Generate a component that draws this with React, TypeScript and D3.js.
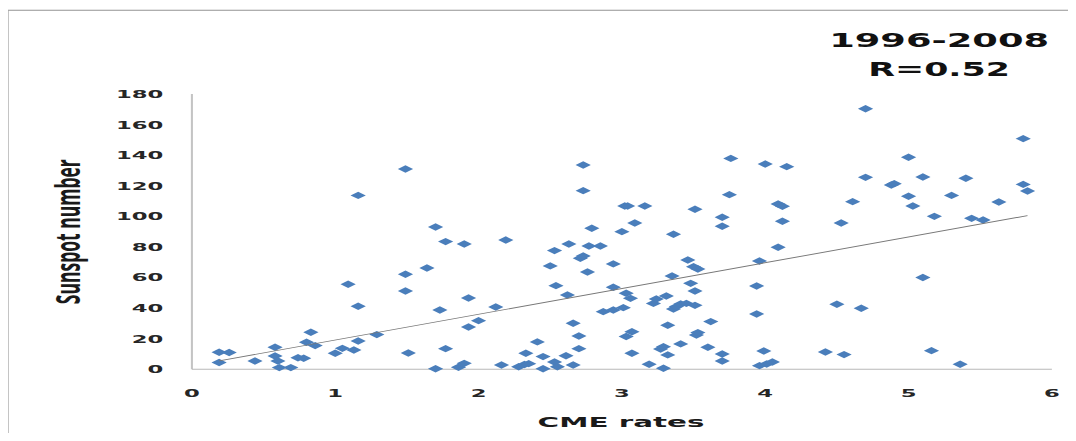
import React from 'react';
import * as d3 from 'd3';

// CME rate (x) and sunspot number (y)
const cmeRates = [
  0.19, 0.26, 0.19, 0.44, 0.58, 0.58, 0.6, 0.61, 0.69, 0.74, 0.78, 0.8, 0.83, 0.86,
  1.0, 1.05, 1.13, 1.09, 1.16, 1.16, 1.16, 1.29, 1.49, 1.49, 1.49, 1.51, 1.64, 1.7,
  1.77, 1.9, 1.73, 1.77, 1.7, 1.86, 1.9, 1.93, 1.93, 2.0, 2.12, 2.19, 2.16, 2.28,
  2.32, 2.35, 2.33, 2.41, 2.45, 2.45, 2.53, 2.55, 2.61, 2.66, 2.5, 2.53, 2.54, 2.62,
  2.63, 2.66, 2.7, 2.7, 2.71, 2.73, 2.73, 2.73, 2.76, 2.79, 2.77, 2.85, 2.87, 2.94,
  2.94, 2.94, 3.01, 3.0, 3.02, 3.04, 3.03, 3.06, 3.16, 3.09, 3.03, 3.07, 3.07, 3.19,
  3.22, 3.24, 3.27, 3.29, 3.29, 3.31, 3.32, 3.32, 3.35, 3.36, 3.38, 3.36, 3.41, 3.41,
  3.45, 3.46, 3.48, 3.5, 3.53, 3.51, 3.51, 3.51, 3.52, 3.53, 3.6, 3.62, 3.7, 3.7,
  3.7, 3.7, 3.75, 3.76, 3.94, 3.94, 3.96, 3.96, 3.99, 4.01, 4.05, 4.0, 4.09, 4.12,
  4.09, 4.12, 4.15, 4.42, 4.5, 4.53, 4.55, 4.61, 4.67, 4.7, 4.7, 4.88, 4.9, 5.0,
  5.0, 5.03, 5.1, 5.1, 5.16, 5.18, 5.3, 5.36, 5.4, 5.44, 5.52, 5.63, 5.8, 5.8, 5.83,
];
const sunspots = [
  11.1, 11, 4.4, 5.4, 14.4, 8.7, 5.4, 1.1, 1.1, 7.6, 7.2, 17.7, 24.2, 15.5,
  10.5, 13.7, 12.6, 55.6, 41.2, 113.7, 18.5, 22.7, 131, 62.1, 51.2, 10.7, 66.2, 93,
  83.5, 81.9, 38.8, 13.5, 0.4, 1.3, 3.9, 46.6, 27.7, 31.8, 40.7, 84.5, 2.8, 1.7,
  3.1, 3.7, 10.5, 17.9, 8.3, 0.4, 4.8, 1.7, 8.9, 2.8, 67.6, 77.6, 54.7, 48.6,
  81.9, 30.1, 21.8, 13.5, 72.6, 74.1, 116.8, 133.6, 63.6, 92.2, 80.6, 80.6, 37.7, 38.8,
  68.9, 53.6, 40.3, 90, 106.8, 106.8, 49.7, 46.4, 106.8, 95.7, 21.4, 24.6, 10.5, 3.3,
  43.1, 46, 13.3, 14.8, 0.7, 47.9, 28.8, 9.4, 61, 39.4, 41, 88.3, 16.6, 42.7,
  43.1, 71.5, 56.2, 67.1, 65.6, 104.6, 51.2, 41.8, 22.4, 24, 14.4, 31.2, 99.4, 93.5,
  10, 5.4, 114.2, 137.9, 54.5, 36.2, 70.8, 2.4, 12, 3.5, 4.8, 134.2, 108.1, 106.6,
  79.8, 96.8, 132.5, 11.3, 42.5, 95.7, 9.6, 109.6, 39.9, 170.4, 125.5, 120.5, 121.4, 138.6,
  113.1, 106.8, 125.7, 60, 12.2, 100, 113.7, 3.3, 124.9, 98.7, 97.6, 109.4, 150.8, 120.9, 116.6,
];

const xTicks = [0, 1, 2, 3, 4, 5, 6];
const yTicks = [0, 20, 40, 60, 80, 100, 120, 140, 160, 180];

const titleLines = ['1996-2008', 'R=0.52'];
const xTitle = 'CME rates';
const yTitle = 'Sunspot number';

// linear trend line
const trendSlope = 16.84;
const trendIntercept = 2.3;

// the picture is stretched sideways, so draw in a narrower frame and stretch it
const W = 522;
const H = 441;

const tickFont = 'DejaVu Sans, Verdana, sans-serif';

export default function App() {
  const x = d3.scaleLinear().domain([0, 6]).range([93.1, 510.3]);
  const y = d3.scaleLinear().domain([0, 180]).range([369.3, 94]);

  const [xMin, xMax] = d3.extent(cmeRates) as [number, number];
  const trend = d3.line<number>()
    .x((d) => x(d))
    .y((d) => y(trendIntercept + trendSlope * d))([xMin, xMax]);

  const s = 3.7;
  const diamond = `M0,${-s}L${s},0L0,${s}L${-s},0Z`;

  return (
    <div style={{ margin: -8 }}>
      <svg
        width={1076}
        height={441}
        viewBox={`0 0 ${W} ${H}`}
        preserveAspectRatio="none"
        style={{ display: 'block', background: '#fff' }}
      >
        <rect x={3.6} y={10.3} width={W + 20} height={H + 20} fill="#fff" stroke="#a6a6a6" strokeWidth={1.2} />

        {/* axes */}
        <line x1={x(0)} x2={x(0)} y1={y(180)} y2={y(0)} stroke="#c4c4c4" strokeWidth={1} />
        <line x1={x(0)} x2={x(6)} y1={y(0)} y2={y(0)} stroke="#b8b8b8" strokeWidth={1} />

        {yTicks.map((t) => (
          <text
            key={`y${t}`}
            x={79.2}
            y={y(t)}
            dy="0.36em"
            textAnchor="end"
            fontFamily={tickFont}
            fontWeight="bold"
            fontSize={11}
            fill="#262626"
          >
            {t}
          </text>
        ))}
        {xTicks.map((t) => (
          <text
            key={`x${t}`}
            x={x(t)}
            y={396.8}
            textAnchor="middle"
            fontFamily={tickFont}
            fontWeight="bold"
            fontSize={11}
            fill="#262626"
          >
            {t}
          </text>
        ))}

        {/* points */}
        {cmeRates.map((c, i) => (
          <path
            key={i}
            d={diamond}
            transform={`translate(${x(c)},${y(sunspots[i])})`}
            fill="#4a7ebb"
          />
        ))}

        <path d={trend as string} fill="none" stroke="#777" strokeWidth={0.9} />

        {/* titles */}
        <text
          x={301.3}
          y={427}
          textAnchor="middle"
          fontFamily={tickFont}
          fontWeight="bold"
          fontSize={14.5}
          fill="#1a1a1a"
          textLength={81}
          lengthAdjust="spacingAndGlyphs"
        >
          {xTitle}
        </text>
        <text
          transform="translate(39,231.7) rotate(-90)"
          textAnchor="middle"
          fontFamily="Open Sans, sans-serif"
          fontWeight="bold"
          fontSize={16.5}
          fill="#1a1a1a"
          textLength={145}
          lengthAdjust="spacingAndGlyphs"
        >
          {yTitle}
        </text>
        <text
          x={455.6}
          y={46.7}
          textAnchor="middle"
          fontFamily={tickFont}
          fontWeight="bold"
          fontSize={20}
          fill="#111"
          textLength={106.7}
          lengthAdjust="spacingAndGlyphs"
        >
          {titleLines[0]}
        </text>
        <text
          x={455.6}
          y={76}
          textAnchor="middle"
          fontFamily={tickFont}
          fontWeight="bold"
          fontSize={20}
          fill="#111"
          textLength={68.7}
          lengthAdjust="spacingAndGlyphs"
        >
          {titleLines[1]}
        </text>
      </svg>
    </div>
  );
}
